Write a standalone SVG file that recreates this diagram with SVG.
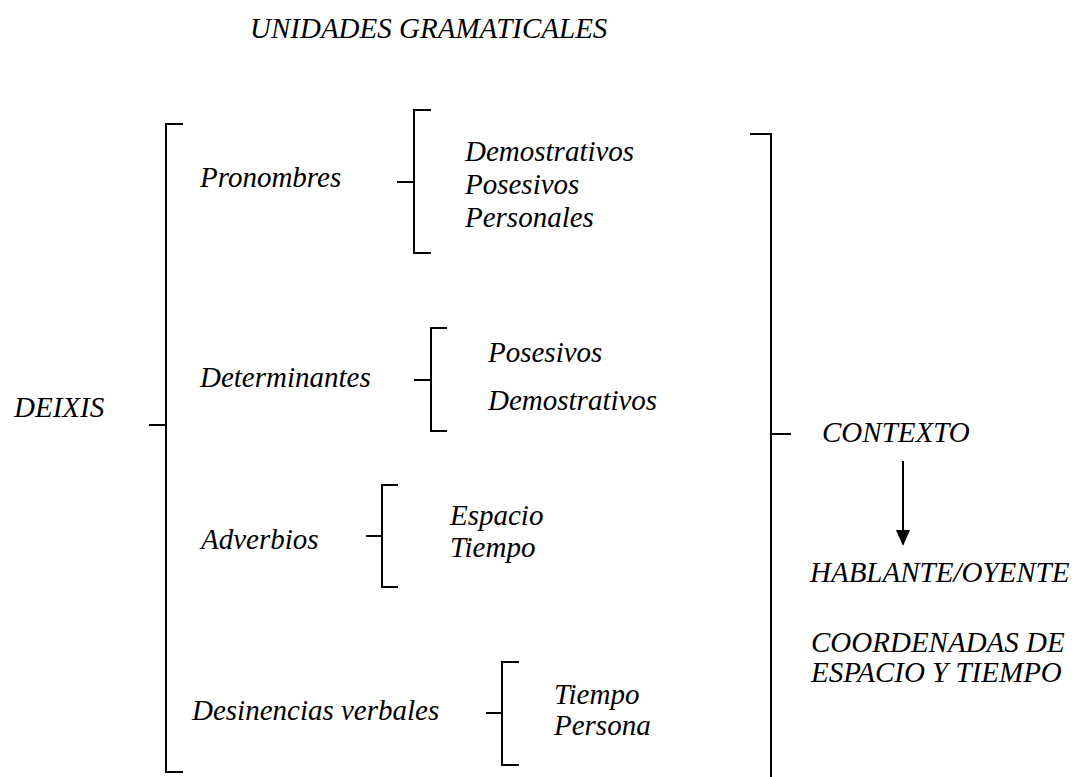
<svg xmlns="http://www.w3.org/2000/svg" width="1075" height="777" viewBox="0 0 1075 777">
<style>
text{font-family:"Liberation Serif","Times New Roman",serif;font-style:italic;font-size:29px;fill:#000}
.b{fill:none;stroke:#000;stroke-width:2}
</style>
<defs>
<marker id="ah" markerWidth="14" markerHeight="16" refX="7" refY="16" orient="auto-start-reverse" markerUnits="userSpaceOnUse" viewBox="0 0 14 16">
<path d="M0,0 L14,0 L7,16 Z" fill="#000" transform="rotate(-90 7 8)"/>
</marker>
</defs>
<rect width="1075" height="777" fill="#fff"/>
<g id="title"><text x="250" y="38">UNIDADES GRAMATICALES</text></g>
<g id="deixis"><text x="14" y="417">DEIXIS</text></g>
<g id="pronombres">
<text x="200" y="187">Pronombres</text>
<text x="465" y="161">Demostrativos</text>
<text x="465" y="194">Posesivos</text>
<text x="465" y="227">Personales</text>
</g>
<g id="determinantes">
<text x="200" y="387">Determinantes</text>
<text x="488" y="362">Posesivos</text>
<text x="488" y="410">Demostrativos</text>
</g>
<g id="adverbios">
<text x="201" y="549">Adverbios</text>
<text x="450" y="525">Espacio</text>
<text x="450" y="557">Tiempo</text>
</g>
<g id="desinencias">
<text x="192" y="720">Desinencias verbales</text>
<text x="554" y="704">Tiempo</text>
<text x="554" y="735">Persona</text>
</g>
<g id="contexto"><text x="822" y="442">CONTEXTO</text></g>
<g id="hablante"><text x="810" y="582">HABLANTE/OYENTE</text></g>
<g id="coordenadas">
<text x="811" y="652">COORDENADAS DE</text>
<text x="811" y="682">ESPACIO Y TIEMPO</text>
</g>
<g id="connectors">
<path class="b" d="M183,124 H166 V772 H183 M149,425 H166"/>
<path class="b" d="M431,110 H414 V253 H431 M397,182 H414"/>
<path class="b" d="M447,328 H431 V431 H447 M414,380 H431"/>
<path class="b" d="M398,485 H382 V587 H398 M366,536 H382"/>
<path class="b" d="M519,662 H502 V765 H519 M486,713 H502"/>
<path class="b" d="M750,134 H771 V777 M771,434 H791"/>
<line x1="903" y1="461" x2="903" y2="531" stroke="#000" stroke-width="2"/>
<path d="M896,530 L910,530 L903,546 Z" fill="#000"/>
</g>
</svg>
